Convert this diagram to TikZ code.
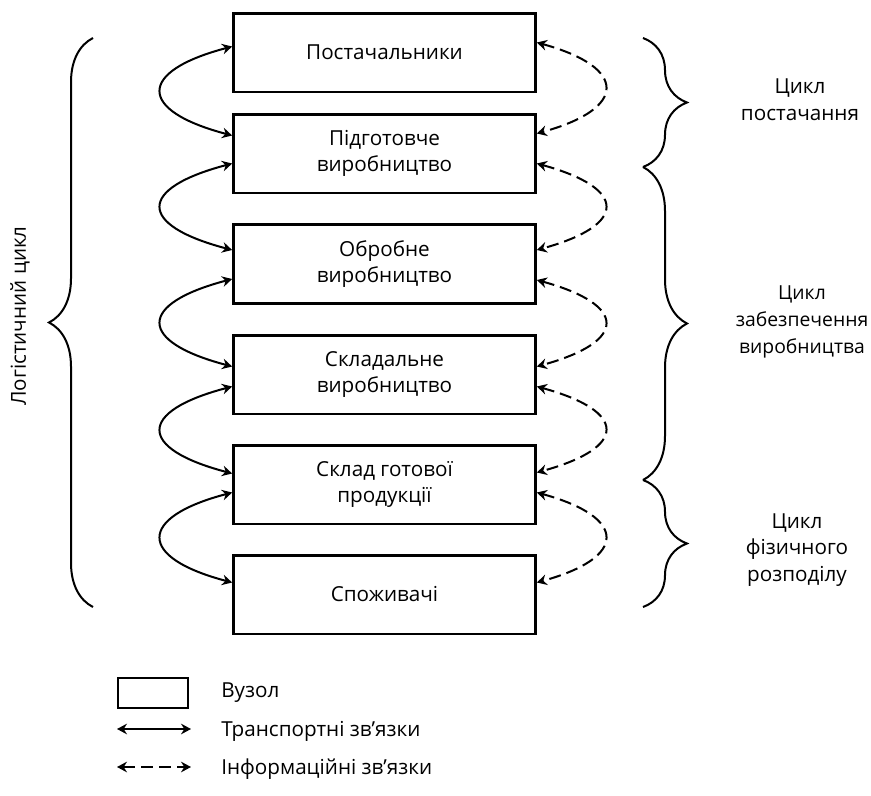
\documentclass[tikz,border=0pt]{standalone}
\usepackage{fontspec}
\setmainfont{Open Sans}
\usepackage{tikz}
\usetikzlibrary{calc,arrows.meta,decorations.pathreplacing}

\begin{document}
\begin{tikzpicture}[x=0.75pt,y=0.75pt,yscale=-1,xscale=1,
  font=\fontsize{15.5}{20}\selectfont,
  vuzol/.style={draw,line width=2pt,minimum width=226.5pt,minimum height=59pt,align=center,inner sep=0.75pt},
  tip/.tip={Stealth[length=7.5pt,width=8pt,inset=2.5pt]},
  transp/.style={line width=1.5pt,tip-tip},
  inform/.style={transp,dash pattern=on 9pt off 4.5pt},
  skobka/.style={decorate,decoration={brace,amplitude=33pt},line width=1.5pt}
]
\useasboundingbox (0,0) rectangle (871,796);

%Shape: Rectangle [id:b1] 
\node[vuzol] (b1) at (384.5,52.5) {Постачальники};
%Shape: Rectangle [id:b2] 
\node[vuzol] (b2) at (384.5,153.5) {Підготовче\\виробництво};
%Shape: Rectangle [id:b3] 
\node[vuzol] (b3) at (384.5,264) {Обробне\\виробництво};
%Shape: Rectangle [id:b4] 
\node[vuzol] (b4) at (384.5,374.5) {Складальне\\виробництво};
%Shape: Rectangle [id:b5] 
\node[vuzol] (b5) at (384.5,484.5) {Склад готової\\продукції};
%Shape: Rectangle [id:b6] 
\node[vuzol] (b6) at (384.5,594.5) {Споживачі};

%Curve Lines [id:tr1] 
\draw[transp] ($(b1.west)+(0,-6)$) .. controls +(-95,25) and +(-95,-25) .. ($(b2.west)+(0,-18)$);
%Curve Lines [id:tr2] 
\draw[transp] ($(b2.west)+(0,10)$) .. controls +(-95,25) and +(-95,-25) .. ($(b3.west)+(0,-14)$);
%Curve Lines [id:tr3] 
\draw[transp] ($(b3.west)+(0,15)$) .. controls +(-95,25) and +(-95,-25) .. ($(b4.west)+(0,-8)$);
%Curve Lines [id:tr4] 
\draw[transp] ($(b4.west)+(0,12)$) .. controls +(-95,25) and +(-95,-25) .. ($(b5.west)+(0,-11)$);
%Curve Lines [id:tr5] 
\draw[transp] ($(b5.west)+(0,8)$) .. controls +(-95,25) and +(-95,-25) .. ($(b6.west)+(0,-12)$);

%Curve Lines [id:in1] 
\draw[inform] ($(b1.east)+(0,-10)$) .. controls +(91,25) and +(91,-25) .. ($(b2.east)+(0,-20)$);
%Curve Lines [id:in2] 
\draw[inform] ($(b2.east)+(0,10)$) .. controls +(91,25) and +(91,-25) .. ($(b3.east)+(0,-14)$);
%Curve Lines [id:in3] 
\draw[inform] ($(b3.east)+(0,16)$) .. controls +(91,25) and +(91,-25) .. ($(b4.east)+(0,-8)$);
%Curve Lines [id:in4] 
\draw[inform] ($(b4.east)+(0,12)$) .. controls +(91,25) and +(91,-25) .. ($(b5.east)+(0,-12)$);
%Curve Lines [id:in5] 
\draw[inform] ($(b5.east)+(0,8)$) .. controls +(91,25) and +(91,-25) .. ($(b6.east)+(0,-12)$);

%Shape: Brace [id:br0] 
\draw[skobka] (93,607) -- (93,38);
%Shape: Brace [id:br1] 
\draw[skobka] (643,38) -- (643,167);
%Shape: Brace [id:br2] 
\draw[skobka] (643,167) -- (643,480);
%Shape: Brace [id:br3] 
\draw[skobka] (643,480) -- (643,607);

% Text Node
\node[rotate=90] (logist) at (20,316) {Логістичний цикл};
% Text Node
\node[align=center] (postach) at (800,100) {Цикл\\постачання};
% Text Node
\node[align=center,font=\fontsize{14.5}{20}\selectfont] (zabezp) at (802,322) {Цикл\\забезпечення\\виробництва};
% Text Node
\node[align=center] (rozpod) at (797,550) {Цикл\\фізичного\\розподілу};

%Legend
\node[draw,line width=1.5pt,minimum width=52.5pt,minimum height=22.5pt] (lv) at (153,693) {};
\node[anchor=west,inner sep=0.75pt] (lvt) at (220,693) {Вузол};
\coordinate (lt1) at (117,729);
\coordinate (lt2) at (191,729);
\draw[transp] (lt1) -- (lt2);
\node[anchor=west,inner sep=0.75pt] (ltt) at (220,731) {Транспортні зв’язки};
\coordinate (li1) at (117,767);
\coordinate (li2) at (191,767);
\draw[inform] (li1) -- (li2);
\node[anchor=west,inner sep=0.75pt] (lit) at (220,769) {Інформаційні зв’язки};

\end{tikzpicture}
\end{document}
